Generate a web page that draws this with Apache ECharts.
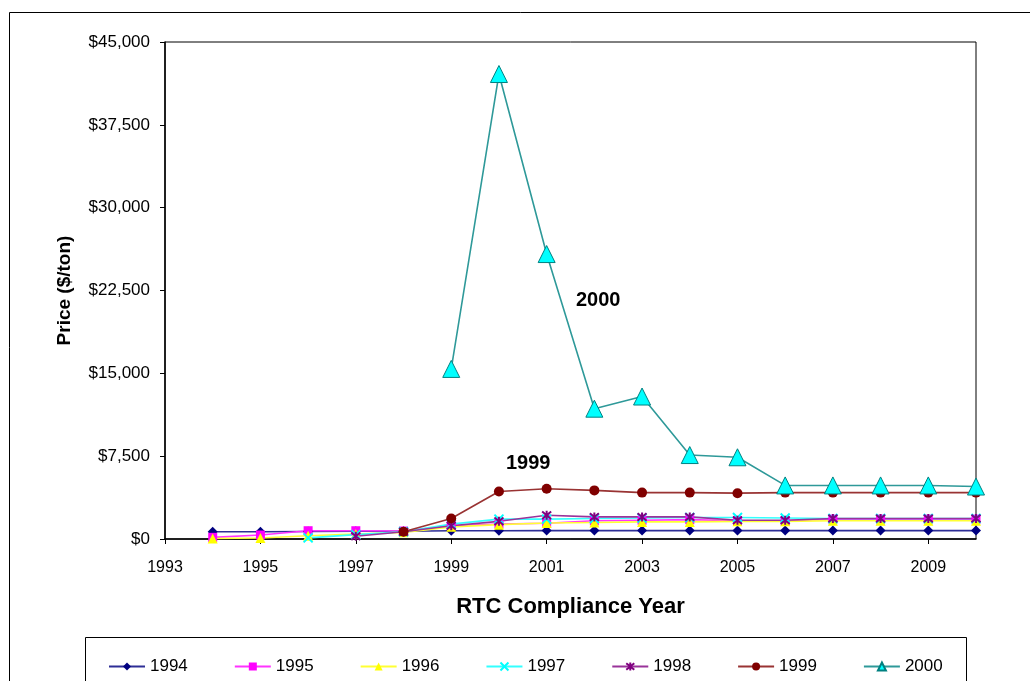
<!DOCTYPE html>
<html>
<head>
<meta charset="utf-8">
<script src="https://cdn.jsdelivr.net/npm/echarts@6/dist/echarts.min.js"></script>
<style>
html,body{margin:0;padding:0;background:#fff;}
#chart{width:1030px;height:681px;}
</style>
</head>
<body>
<div id="chart"></div>
<script>
var years = ['1993','1994','1995','1996','1997','1998','1999','2000','2001','2002','2003','2004','2005','2006','2007','2008','2009','2010'];
var yTicks = [0, 7500, 15000, 22500, 30000, 37500, 45000];
var s1994 = [null, 650, 650, 680, 700, 700, 750, 750, 760, 760, 760, 760, 760, 760, 760, 760, 760, 760];
var s1995 = [null, 150, 360, 750, 750, 720, 1200, 1360, 1420, 1650, 1700, 1750, 1650, 1650, 1800, 1800, 1800, 1800];
var s1996 = [null, 50, 90, 300, 450, 600, 1100, 1300, 1450, 1500, 1550, 1550, 1600, 1600, 1650, 1650, 1650, 1650];
var s1997 = [null, null, null, 100, 400, 650, 1350, 1800, 1800, 1850, 1900, 1950, 1950, 1900, 1850, 1850, 1850, 1850];
var s1998 = [null, null, null, null, 250, 650, 1200, 1600, 2150, 2000, 2000, 2000, 1700, 1700, 1850, 1850, 1850, 1850];
var s1999 = [null, null, null, null, null, 650, 1850, 4300, 4550, 4400, 4200, 4200, 4150, 4200, 4200, 4200, 4200, 4200];
var s2000 = [null, null, null, null, null, null, 15400, 42100, 25800, 11800, 12900, 7600, 7400, 4850, 4850, 4850, 4850, 4750];
var seriesNames = ['1994','1995','1996','1997','1998','1999','2000'];

var FONT = '"Liberation Sans", Arial, sans-serif';
var chart = echarts.init(document.getElementById('chart'));

function mk(name, data, sym, size, lineColor, itemStyle) {
  return {
    name: name, type: 'line', data: data, symbol: sym, symbolSize: size,
    showAllSymbol: true, connectNulls: false,
    lineStyle: { color: lineColor, width: 1.6 },
    itemStyle: itemStyle,
    emphasis: { disabled: true },
    animation: false
  };
}

var xPath = 'path://M0,0L10,10M10,0L0,10';
var starPath = 'path://M0,0L10,10M10,0L0,10M5,-1L5,11';

chart.setOption({
  backgroundColor: '#fff',
  animation: false,
  textStyle: { fontFamily: FONT },
  grid: { left: 165, right: 54, top: 42, bottom: 142, show: true, borderColor: '#000', borderWidth: 1, containLabel: false },
  xAxis: {
    type: 'category', data: years, boundaryGap: false,
    name: 'RTC Compliance Year', nameLocation: 'middle', nameGap: 57,
    nameTextStyle: { fontFamily: FONT, fontSize: 22, fontWeight: 'bold', color: '#000' },
    axisLine: { lineStyle: { color: '#000', width: 1.5 } },
    axisTick: { show: true, interval: 1, length: 5, lineStyle: { color: '#000' } },
    axisLabel: { interval: 1, margin: 21, fontFamily: FONT, fontSize: 16, color: '#000' },
    splitLine: { show: false }
  },
  yAxis: {
    type: 'value', min: 0, max: 45000, interval: 7500,
    name: 'Price ($/ton)', nameLocation: 'middle', nameGap: 91, nameRotate: 90,
    nameTextStyle: { fontFamily: FONT, fontSize: 19, fontWeight: 'bold', color: '#000' },
    axisLine: { show: true, lineStyle: { color: '#000', width: 1.5 } },
    axisTick: { show: true, length: 5, lineStyle: { color: '#000' } },
    axisLabel: { margin: 15, fontFamily: FONT, fontSize: 17, color: '#000',
      formatter: function (v) { return '$' + v.toLocaleString('en-US'); } },
    splitLine: { show: false }
  },
  legend: {
    data: seriesNames, left: 103, top: 653, itemWidth: 36, itemHeight: 10, itemGap: 46,
    textStyle: { fontFamily: FONT, fontSize: 17, color: '#000' },
    selectedMode: false
  },
  graphic: [
    { type: 'rect', shape: { x: 9.5, y: 12.5, width: 1100, height: 800 }, style: { fill: 'none', stroke: '#000', lineWidth: 1 }, silent: true },
    { type: 'rect', shape: { x: 85.5, y: 637.5, width: 881, height: 100 }, style: { fill: 'none', stroke: '#000', lineWidth: 1 }, silent: true },
    { type: 'text', left: 576, top: 290, style: { text: '2000', font: 'bold 20px ' + FONT, fill: '#000' }, silent: true },
    { type: 'text', left: 506, top: 453, style: { text: '1999', font: 'bold 20px ' + FONT, fill: '#000' }, silent: true }
  ],
  series: [
    mk('1994', s1994, 'diamond', 10, '#2e2e96', { color: '#000080' }),
    mk('1995', s1995, 'rect', 9, '#ff33ff', { color: '#ff00ff' }),
    mk('1996', s1996, 'triangle', 10, '#ffff33', { color: '#ffff00' }),
    mk('1997', s1997, xPath, 9, '#33ffff', { color: 'none', borderColor: '#00ffff', borderWidth: 2 }),
    mk('1998', s1998, starPath, 9, '#993399', { color: 'none', borderColor: '#800080', borderWidth: 2 }),
    mk('1999', s1999, 'circle', 10, '#993333', { color: '#800000' }),
    mk('2000', s2000, 'triangle', 17, '#2e9999', { color: '#00ffff', borderColor: '#008080', borderWidth: 1 })
  ]
});
</script>
</body>
</html>
